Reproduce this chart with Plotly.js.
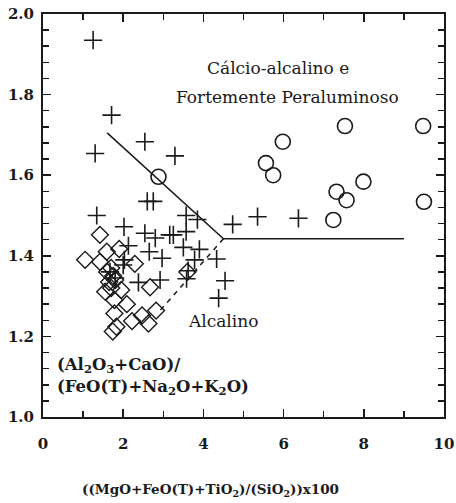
<!DOCTYPE html>
<html>
<head>
<meta charset="utf-8">
<script src="https://cdn.plot.ly/plotly-3.0.1.min.js"></script>
<style>html,body{margin:0;padding:0;background:#fff;}#chart{width:456px;height:503px;}</style>
</head>
<body>
<div id="chart"></div>
<script>
// Crosses (+)
const plusX = [1.25, 1.71, 1.30, 2.54, 3.29, 2.60, 2.75, 1.34, 3.57, 3.85, 4.73, 5.35, 6.37,
  2.02, 2.54, 2.80, 3.16, 3.25, 3.57, 3.50, 3.90, 2.13, 2.65, 2.97, 2.03, 3.78, 4.33,
  3.62, 3.58, 2.92, 2.38, 4.54, 4.38, 1.67, 1.80, 2.00];
const plusY = [1.935, 1.749, 1.654, 1.683, 1.648, 1.535, 1.535, 1.500, 1.500, 1.490, 1.478, 1.497, 1.493,
  1.472, 1.456, 1.444, 1.452, 1.452, 1.460, 1.421, 1.416, 1.425, 1.410, 1.394, 1.390, 1.390, 1.392,
  1.363, 1.343, 1.340, 1.334, 1.338, 1.295, 1.360, 1.345, 1.377];
// Diamonds
const diaX = [1.05, 1.42, 1.42, 1.59, 1.90, 2.29, 1.60, 1.75, 1.65, 1.80, 1.70, 1.55, 1.95,
  1.78, 2.09, 1.78, 2.22, 2.47, 2.82, 2.63, 1.74, 1.83, 2.67, 3.60, 1.70];
const diaY = [1.390, 1.452, 1.385, 1.410, 1.417, 1.380, 1.360, 1.350, 1.335, 1.340, 1.320, 1.311, 1.315,
  1.290, 1.280, 1.257, 1.238, 1.252, 1.264, 1.232, 1.212, 1.224, 1.322, 1.360, 1.370];
// Circles
const circX = [2.88, 5.56, 5.74, 5.98, 7.53, 9.48, 7.32, 7.57, 7.99, 7.24, 9.50];
const circY = [1.596, 1.630, 1.600, 1.683, 1.722, 1.722, 1.559, 1.538, 1.584, 1.489, 1.534];
// Boundary lines
const solidX = [1.6, 4.5, 9.0];
const solidY = [1.705, 1.442, 1.442];
const dashX = [4.5, 2.9];
const dashY = [1.442, 1.262];
// Ticks
const xTickVals = [0, 2, 4, 6, 8, 10];
const xTickText = ['0', '2', '4', '6', '8', '10'];
const yTickVals = [1.0, 1.2, 1.4, 1.6, 1.8, 2.0];
const yTickText = ['1.0', '1.2', '1.4', '1.6', '1.8', '2.0'];

const ink = '#1a1a1a';
const serif = 'DejaVu Serif';

const traces = [
  {x: solidX, y: solidY, mode: 'lines', line: {color: ink, width: 1.5}, hoverinfo: 'skip'},
  {x: dashX, y: dashY, mode: 'lines', line: {color: ink, width: 1.5, dash: '5px,5px'}, hoverinfo: 'skip'},
  {x: diaX, y: diaY, mode: 'markers', marker: {symbol: 'diamond-open', size: 13, color: ink, line: {width: 1.4, color: ink}}},
  {x: plusX, y: plusY, mode: 'markers', marker: {symbol: 'cross-thin-open', size: 13, color: ink, line: {width: 1.6, color: ink}}},
  {x: circX, y: circY, mode: 'markers', marker: {symbol: 'circle-open', size: 15, color: ink, line: {width: 1.6, color: ink}}}
];

const axisCommon = {
  showline: true, mirror: 'ticks', linecolor: ink, linewidth: 2,
  ticks: 'inside', ticklen: 8, tickwidth: 1.5, tickcolor: ink,
  showgrid: false, zeroline: false,
  tickfont: {family: serif, size: 15, color: ink, weight: 'bold'}
};

const layout = {
  width: 456, height: 503,
  margin: {l: 43, r: 12, t: 14, b: 86},
  paper_bgcolor: '#fff', plot_bgcolor: '#fff',
  showlegend: false,
  font: {family: serif, color: ink},
  xaxis: Object.assign({}, axisCommon, {
    range: [0, 10], tickvals: xTickVals, ticktext: xTickText,
    minor: {dtick: 1, tick0: 0, ticks: 'inside', ticklen: 6, tickwidth: 1.5, tickcolor: ink},
    ticklabelstandoff: 12
  }),
  yaxis: Object.assign({}, axisCommon, {
    range: [1.0, 2.0], tickvals: yTickVals, ticktext: yTickText,
    minor: {dtick: 0.04, tick0: 1.0, ticks: 'inside', ticklen: 6, tickwidth: 1.5, tickcolor: ink},
    ticklabelstandoff: 4
  }),
  annotations: [
    {x: 5.85, y: 1.865, xref: 'x', yref: 'y', text: 'Cálcio-alcalino e', showarrow: false,
      font: {family: serif, size: 17, color: ink}},
    {x: 6.1, y: 1.795, xref: 'x', yref: 'y', text: 'Fortemente Peraluminoso', showarrow: false,
      font: {family: serif, size: 17, color: ink}},
    {x: 4.5, y: 1.239, xref: 'x', yref: 'y', text: 'Alcalino', showarrow: false,
      font: {family: serif, size: 17, color: ink}},
    {x: 0.3, y: 1.128, xref: 'x', yref: 'y', xanchor: 'left', text: '(Al<sub>2</sub>O<sub>3</sub>+CaO)/', showarrow: false,
      font: {family: serif, size: 16.5, color: ink, weight: 'bold'}},
    {x: 0.3, y: 1.072, xref: 'x', yref: 'y', xanchor: 'left', text: '(FeO(T)+Na<sub>2</sub>O+K<sub>2</sub>O)', showarrow: false,
      font: {family: serif, size: 16.5, color: ink, weight: 'bold'}},
    {x: 0.4165, y: -0.181, xref: 'paper', yref: 'paper', xanchor: 'center', yanchor: 'middle',
      text: '((MgO+FeO(T)+TiO<sub>2</sub>)/(SiO<sub>2</sub>))x100', showarrow: false,
      font: {family: serif, size: 13.5, color: ink, weight: 'bold'}}
  ]
};

Plotly.newPlot('chart', traces, layout, {displayModeBar: false, staticPlot: true});
</script>
</body>
</html>
